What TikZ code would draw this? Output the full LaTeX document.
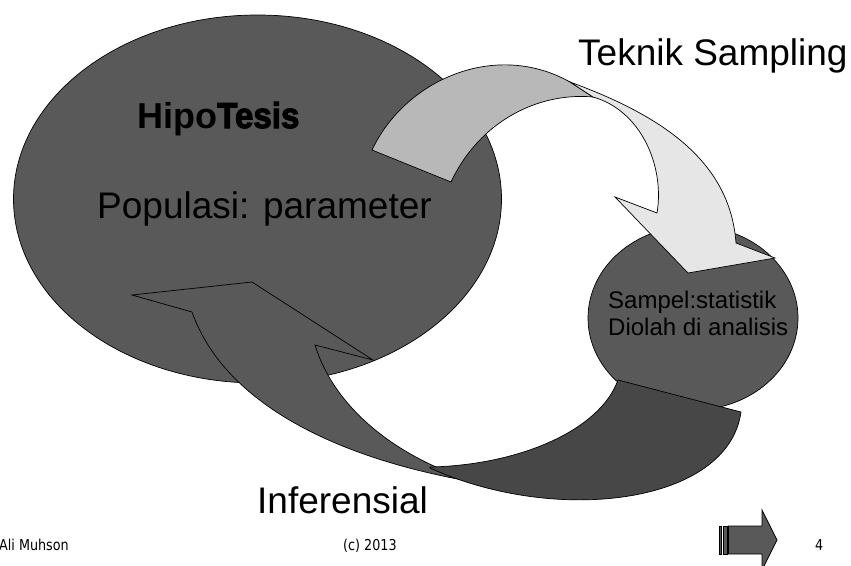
\documentclass[tikz,border=0pt]{standalone}
\usepackage{graphicx}
\usepackage{fontspec}
\setmainfont{Liberation Sans}
\newfontfamily\footfont{DejaVu Sans}
\newfontfamily\heavyfont[BoldFeatures={FakeBold=3}]{Liberation Sans}
\usetikzlibrary{shapes.geometric}
\definecolor{ellfill}{HTML}{595959}
\definecolor{tailfill}{HTML}{474747}
\definecolor{midgray}{HTML}{B8B8B8}
\definecolor{lightgray2}{HTML}{E6E6E6}
\begin{document}
\begin{tikzpicture}[x=1pt,y=-1pt,line join=miter]
\tikzset{
  outl/.style={draw=black,line width=0.7pt},
  blob/.style={ellipse,outl,fill=ellfill,inner sep=0pt},
  txt/.style={anchor=base west,inner sep=0pt,text=black},
}
\useasboundingbox (0,0) rectangle (851,565);
% ellipses
\node[blob,minimum width=488pt,minimum height=368pt] (pop) at (257.5,199) {};
\node[blob,minimum width=210pt,minimum height=184pt] (samp) at (693,318) {};
% lower arrow (Inferensial), head part
\path[outl,fill=ellfill] (132,295) -- (252,282) -- (373,360) -- (315,345)
  .. controls (335,410) and (400,460) .. (480,483)
  .. controls (340,460) and (225,405) .. (192,312)
  -- cycle;
% lower arrow tail part (dark)
\path[outl,fill=tailfill] (430,467) .. controls (520,465) and (600,430) .. (618,380)
  -- (741,412)
  .. controls (728,505) and (555,525) .. (430,468)
  -- cycle;
% upper arrow (Teknik Sampling), gray part
\path[outl,fill=midgray] (372,150) .. controls (405,80) and (495,40) .. (570,82)
  -- (593,97)
  .. controls (540,92) and (480,120) .. (451,182)
  -- cycle;
% upper arrow, light part
\path[outl,fill=lightgray2] (570,82) .. controls (660,115) and (730,160) .. (736,243)
  -- (775,258) -- (688,273) -- (615,197) -- (657,213)
  .. controls (665,165) and (640,110) .. (593,97)
  -- cycle;
% texts
\node[txt,font=\fontsize{36}{40}\selectfont\bfseries] (hipo) at (137,128) {Hipo\scalebox{0.92}[1]{\heavyfont\bfseries Tesis}};
\node[txt,font=\fontsize{37}{42}\selectfont] (poptxt) at (97,218) {Populasi: parameter};
\node[txt,font=\fontsize{37}{42}\selectfont] (tek) at (578,65) {Teknik Sampling};
\node[txt,font=\fontsize{37}{42}\selectfont] (inf) at (257,513) {Inferensial};
\node[txt,font=\fontsize{24}{27}\selectfont] (s1) at (608,308) {Sampel:statistik};
\node[txt,font=\fontsize{24}{27}\selectfont] (s2) at (608,335) {Diolah di analisis};
% footer
\node[txt,font=\footfont\fontsize{15}{18}\selectfont] (auth) at (-1,550) {\scalebox{0.85}[1]{Ali Muhson}};
\node[txt,font=\footfont\fontsize{15}{18}\selectfont] (copy) at (343,550) {\scalebox{0.85}[1]{(c) 2013}};
\node[txt,font=\footfont\fontsize{15}{18}\selectfont] (pg) at (815,550) {\scalebox{0.85}[1]{4}};
% small striped arrow icon
\path[outl,fill=ellfill] (719.5,526) rectangle (721.8,554);
\path[outl,fill=ellfill] (723,526) rectangle (727.3,554);
\path[outl,fill=ellfill] (728.5,526) -- (762,526) -- (762,510) -- (777,540) -- (762,570) -- (762,554) -- (728.5,554) -- cycle;
\end{tikzpicture}
\end{document}
